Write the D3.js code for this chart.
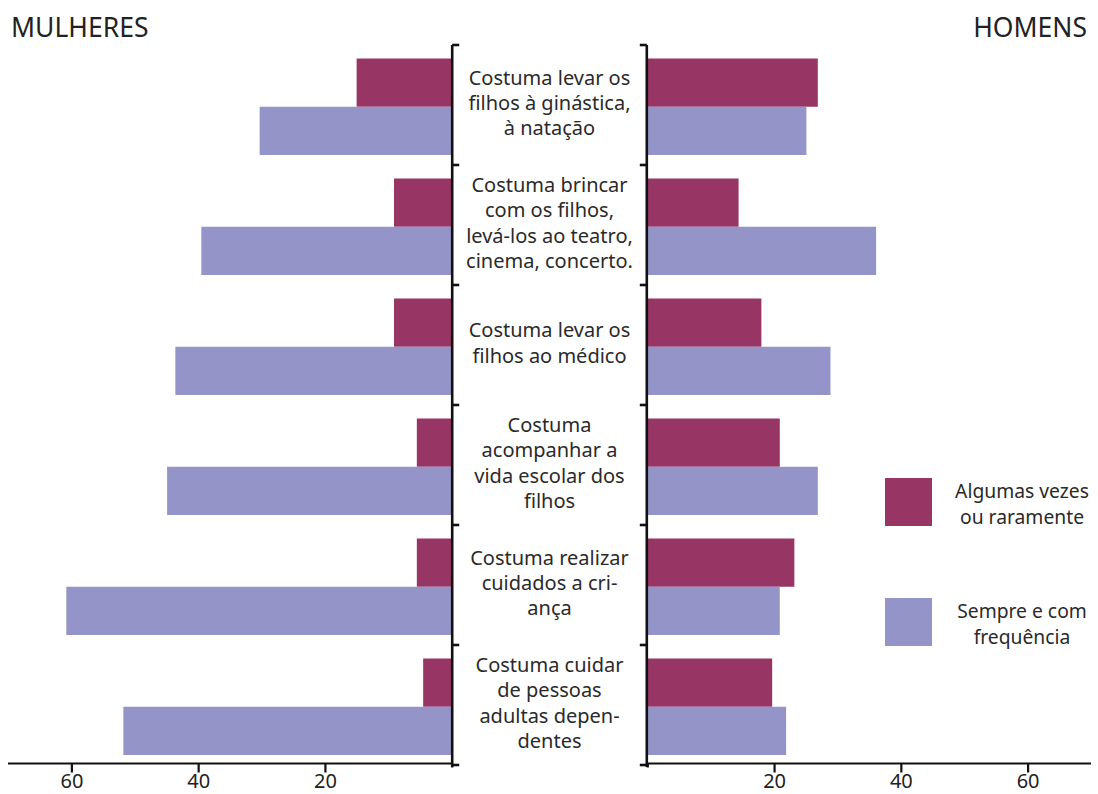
<!DOCTYPE html>
<html>
<head>
<meta charset="utf-8">
<script src="https://cdn.jsdelivr.net/npm/d3@7"></script>
<style>
  html, body { margin: 0; padding: 0; background: #fff; }
  svg { display: block; font-family: "Noto Sans", Roboto, sans-serif; }
</style>
</head>
<body>
<svg id="chart" width="1098" height="794"></svg>
<script>
// Activities (each label is split into its printed lines)
const categories = [
  ["Costuma levar os", "filhos à ginástica,", "à natação"],
  ["Costuma brincar", "com os filhos,", "levá-los ao teatro,", "cinema, concerto."],
  ["Costuma levar os", "filhos ao médico"],
  ["Costuma", "acompanhar a", "vida escolar dos", "filhos"],
  ["Costuma realizar", "cuidados a cri-", "ança"],
  ["Costuma cuidar", "de pessoas", "adultas depen-", "dentes"]
];
const seriesNames = ["Algumas vezes ou raramente", "Sempre e com frequência"];
const legendLines = [["Algumas vezes", "ou raramente"], ["Sempre e com", "frequência"]];

// Percentages, women
const mulheresAlgumas = [15.0, 9.1, 9.1, 5.5, 5.5, 4.5];
const mulheresSempre  = [30.3, 39.5, 43.6, 44.9, 60.8, 51.8];
// Percentages, men
const homensAlgumas = [26.9, 14.4, 18.0, 20.9, 23.2, 19.7];
const homensSempre  = [25.1, 36.1, 28.9, 26.9, 20.9, 21.9];

const tickValues = [20, 40, 60];
const panelTitles = ["MULHERES", "HOMENS"];
const colors = ["#973564", "#9594c8"];

const FONT = "'Noto Sans', Roboto, sans-serif";
const svg = d3.select("#chart");
const ids = d3.range(categories.length);

const y = d3.scaleBand().domain(ids).range([45, 765]).padding(0);
const ySub = d3.scaleBand().domain([0, 1]).range([13.5, 110]).padding(0);

const xLeft = d3.scaleLinear().domain([0, 70]).range([451.7, 8]);
const xRight = d3.scaleLinear().domain([0, 70]).range([647.3, 1091]);

const color = d3.scaleOrdinal().domain([0, 1]).range(colors);

function drawPanel(x, alg, sem, side) {
  const g = svg.append("g");
  const rows = ids.map(i => [alg[i], sem[i]]);
  ids.forEach(i => {
    rows[i].forEach((v, s) => {
      const x0 = x(0), x1 = x(v);
      g.append("rect")
        .attr("x", Math.min(x0, x1))
        .attr("y", y(i) + ySub(s))
        .attr("width", Math.abs(x1 - x0))
        .attr("height", ySub.bandwidth())
        .attr("fill", color(s));
    });
  });

  // horizontal value axis
  const axis = d3.axisBottom(x).tickValues([0, ...tickValues])
    .tickSize(9).tickPadding(1)
    .tickFormat(d => d === 0 ? "" : d);
  const ax = svg.append("g").attr("transform", "translate(0,763.5)").call(axis);
  ax.select(".domain").attr("stroke", "#111").attr("stroke-width", 2.2)
    .attr("d", `M${x.range()[0]},0H${x.range()[1]}`);
  ax.selectAll(".tick line").attr("stroke", "#111").attr("stroke-width", 2.2);
  ax.selectAll(".tick").filter(d => d === 0).select("line").attr("y2", 4);
  ax.selectAll(".tick text").attr("font-size", 20).attr("fill", "#222")
    .attr("font-family", FONT);

  // vertical category axis with boundary ticks pointing inward
  const xv = x(0) + (side === "left" ? 0.5 : -0.5);
  const dir = side === "left" ? 1 : -1;
  svg.append("line").attr("x1", xv).attr("x2", xv)
    .attr("y1", y.range()[0]).attr("y2", y.range()[1] + 2)
    .attr("stroke", "#111").attr("stroke-width", 2.6);
  const bounds = [...ids.map(i => y(i)), y.range()[1]];
  svg.append("g").selectAll("line").data(bounds).join("line")
    .attr("x1", xv).attr("x2", xv + dir * 7)
    .attr("y1", d => d).attr("y2", d => d)
    .attr("stroke", "#111").attr("stroke-width", 2.6);
}

drawPanel(xLeft, mulheresAlgumas, mulheresSempre, "left");
drawPanel(xRight, homensAlgumas, homensSempre, "right");

// category labels in the centre column
const midX = (xLeft(0) + xRight(0)) / 2;
const lineH = 25.3;
ids.forEach(i => {
  const lines = categories[i];
  const cy = y(i) + y.bandwidth() / 2 - 2;
  const t = svg.append("text")
    .attr("text-anchor", "middle")
    .attr("font-size", 20)
    .attr("fill", "#2a2a2a");
  lines.forEach((ln, k) => {
    t.append("tspan")
      .attr("x", midX)
      .attr("y", cy + (k - (lines.length - 1) / 2) * lineH)
      .attr("dy", "0.35em")
      .text(ln);
  });
});

// panel titles
svg.append("text").attr("x", 11).attr("y", 37)
  .attr("font-size", 26.5).attr("fill", "#222").text(panelTitles[0]);
svg.append("text").attr("x", 1087).attr("y", 37).attr("text-anchor", "end")
  .attr("font-size", 26.5).attr("fill", "#222").text(panelTitles[1]);

// legend
const legend = svg.append("g");
[0, 1].forEach(s => {
  const top = 478 + s * 120;
  legend.append("rect").attr("x", 885).attr("y", top)
    .attr("width", 47).attr("height", 48).attr("fill", color(s))
    .append("title").text(seriesNames[s]);
  const t = legend.append("text").attr("text-anchor", "middle")
    .attr("font-size", 19.3).attr("fill", "#2a2a2a");
  legendLines[s].forEach((ln, k) => {
    t.append("tspan").attr("x", 1022)
      .attr("y", top + 13 + k * 26).attr("dy", "0.35em").text(ln);
  });
});
</script>
</body>
</html>
